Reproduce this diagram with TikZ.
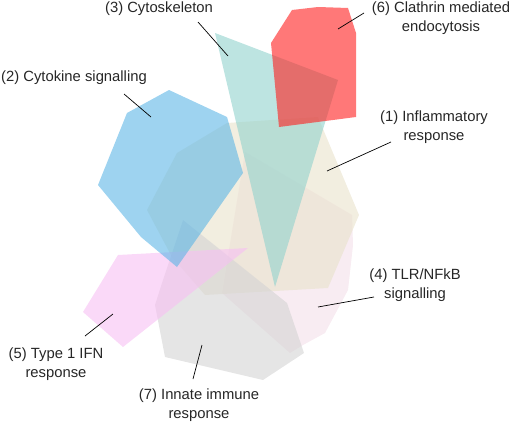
\documentclass[tikz,border=0pt]{standalone}
\usepackage{fontspec}
\setmainfont{Liberation Sans}
\definecolor{cInfl}{RGB}{233,226,203}
\definecolor{cCyto}{RGB}{93,182,230}
\definecolor{cSkel}{RGB}{145,210,205}
\definecolor{cTLR}{RGB}{243,223,233}
\definecolor{cIFN}{RGB}{247,192,243}
\definecolor{cClat}{RGB}{255,30,30}
\definecolor{cInn}{RGB}{212,212,212}
\begin{document}
\begin{tikzpicture}[x=1pt,y=-1pt,
  region/.style={fill opacity=0.6, draw=none},
  lbl/.style={font=\fontsize{14.8}{18.5}\selectfont, align=center, inner sep=0pt, text=black!85},
  pointer/.style={draw=black, line width=0.7pt}]
\useasboundingbox (0,0) rectangle (512,423);
% (4) TLR/NFkB signalling
\fill[region, cTLR] (245,152) -- (352,215) -- (353,245) -- (348,290) -- (325,333) -- (303,345) -- (290,353) -- (222,293) -- cycle;
% (1) Inflammatory response
\fill[region, cInfl] (177,153) -- (227,123) -- (318,117) -- (359,215) -- (328,288) -- (205,295) -- (172,257) -- (147,210) -- cycle;
% (7) Innate immune response
\fill[region, cInn] (183,220) -- (287,303) -- (304,353) -- (263,380) -- (165,357) -- (155,305) -- (163,280) -- cycle;
% (5) Type 1 IFN response
\fill[region, cIFN] (118,255) -- (248,248) -- (123,347) -- (83,312) -- cycle;
% (2) Cytokine signalling
\fill[region, cCyto] (169,90) -- (227,117) -- (243,173) -- (177,267) -- (141,237) -- (98,185) -- (127,113) -- cycle;
% (3) Cytoskeleton
\fill[region, cSkel] (215,33) -- (338,80) -- (275,287) -- cycle;
% (6) Clathrin mediated endocytosis
\fill[region, cClat] (271,43) -- (292,10) -- (318,7) -- (348,8) -- (356,33) -- (356,117) -- (279,127) -- cycle;

% labels
\node[lbl] (l3) at (159,9) {(3) Cytoskeleton};
\node[lbl] (l2) at (74,78) {(2) Cytokine signalling};
\node[lbl] (l6) at (441,18) {(6) Clathrin mediated\\endocytosis};
\node[lbl] (l1) at (434,127) {(1) Inflammatory\\response};
\node[lbl] (l4) at (415,285) {(4) TLR/NFkB\\signalling};
\node[lbl] (l5) at (56,364) {(5) Type 1 IFN\\response};
\node[lbl] (l7) at (199,405) {(7) Innate immune\\response};

% pointer ends
\coordinate (p3a) at (198,22);  \coordinate (p3b) at (228,56);
\coordinate (p2a) at (124,94);  \coordinate (p2b) at (151,117);
\coordinate (p6a) at (364,13);  \coordinate (p6b) at (338,29);
\coordinate (p1a) at (391,142); \coordinate (p1b) at (327,171);
\coordinate (p4a) at (374,297); \coordinate (p4b) at (318,307);
\coordinate (p5a) at (85,336);  \coordinate (p5b) at (113,314);
\coordinate (p7a) at (193,379); \coordinate (p7b) at (202,345);

\draw[pointer] (p3a) -- (p3b);
\draw[pointer] (p2a) -- (p2b);
\draw[pointer] (p6a) -- (p6b);
\draw[pointer] (p1a) -- (p1b);
\draw[pointer] (p4a) -- (p4b);
\draw[pointer] (p5a) -- (p5b);
\draw[pointer] (p7a) -- (p7b);
\end{tikzpicture}
\end{document}
